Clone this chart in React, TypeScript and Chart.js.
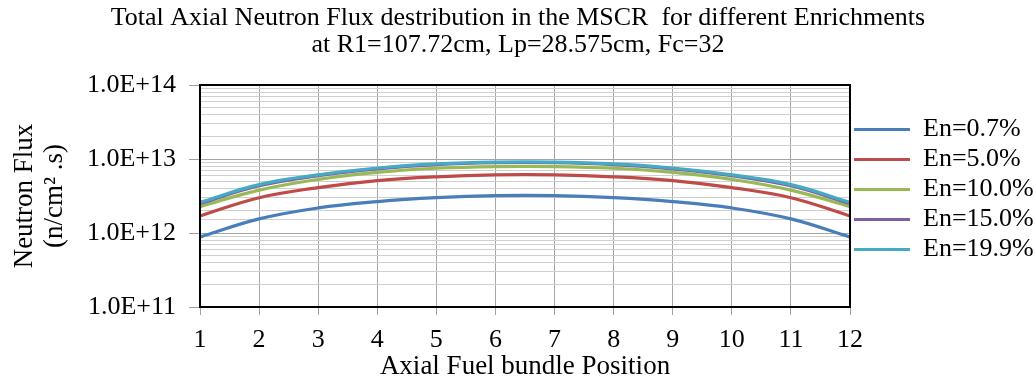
import React, { useEffect, useRef } from "react";
import { Chart, registerables } from "chart.js";

Chart.register(...registerables);

const positions = ["1", "2", "3", "4", "5", "6", "7", "8", "9", "10", "11", "12"];
const seriesLabels = ["En=0.7%", "En=5.0%", "En=10.0%", "En=15.0%", "En=19.9%"];
const en07 = [0.88e12, 1.55e12, 2.18e12, 2.65e12, 3.0e12, 3.2e12, 3.2e12, 3.0e12, 2.65e12, 2.18e12, 1.55e12, 0.88e12];
const en50 = [1.7e12, 3.0e12, 4.1e12, 5.1e12, 5.75e12, 6.1e12, 6.1e12, 5.75e12, 5.1e12, 4.1e12, 3.0e12, 1.7e12];
const en100 = [2.27e12, 3.8e12, 5.3e12, 6.6e12, 7.5e12, 7.9e12, 7.9e12, 7.5e12, 6.6e12, 5.3e12, 3.8e12, 2.27e12];
const en150 = [2.5e12, 4.35e12, 5.95e12, 7.35e12, 8.4e12, 8.9e12, 8.9e12, 8.4e12, 7.35e12, 5.95e12, 4.35e12, 2.5e12];
const en199 = [2.6e12, 4.5e12, 6.1e12, 7.55e12, 8.6e12, 9.1e12, 9.1e12, 8.6e12, 7.55e12, 6.1e12, 4.5e12, 2.6e12];
const seriesValues = [en07, en50, en100, en150, en199];
const seriesColors = ["#4a7ebb", "#be4b48", "#98b954", "#7d60a0", "#46aac5"];
const titleLines = [
  "Total Axial Neutron Flux destribution in the MSCR  for different Enrichments",
  "at R1=107.72cm, Lp=28.575cm, Fc=32",
];
const yTitleLines = ["Neutron Flux", "(n/cm\u00B2 .s)"];
const xTitle = "Axial Fuel bundle Position";

const SERIF = "'Liberation Serif', 'Times New Roman', serif";

const isDecade = (v: number) => {
  const l = Math.log10(v);
  return Math.abs(l - Math.round(l)) < 1e-9;
};

const framePlugin = {
  id: "frame",
  afterDatasetsDraw(chart: any) {
    const { ctx, chartArea } = chart;
    ctx.save();
    ctx.strokeStyle = "#000";
    ctx.lineWidth = 2;
    ctx.strokeRect(chartArea.left, chartArea.top, chartArea.right - chartArea.left, chartArea.bottom - chartArea.top);
    ctx.restore();
  },
};

export default function App() {
  const ref = useRef<HTMLCanvasElement | null>(null);
  useEffect(() => {
    if (!ref.current) return;
    const chart = new Chart(ref.current, {
      type: "line",
      data: {
        labels: positions,
        datasets: seriesValues.map((vals, i) => ({
          label: seriesLabels[i],
          data: vals,
          borderColor: seriesColors[i],
          backgroundColor: seriesColors[i],
          borderWidth: 3.2,
          pointRadius: 0,
          tension: 0.4,
          fill: false,
          order: seriesValues.length - i,
        })),
      },
      options: {
        animation: false,
        responsive: true,
        maintainAspectRatio: false,
        devicePixelRatio: 1,
        layout: { padding: { left: 0, right: 0, top: 0, bottom: 0 } },
        plugins: {
          title: {
            display: true,
            text: titleLines,
            color: "#000",
            font: { family: SERIF, size: 26, weight: "normal", lineHeight: 27 / 26 },
            padding: { top: 4.5, bottom: 26.5 },
          },
          legend: {
            position: "right",
            maxWidth: 186,
            labels: {
              usePointStyle: true,
              pointStyle: "line",
              pointStyleWidth: 56,
              boxWidth: 56,
              boxHeight: 3,
              padding: 4,
              color: "#000",
              font: { family: SERIF, size: 26 },
              sort: (a: any, b: any) => a.datasetIndex - b.datasetIndex,
            },
          },
          tooltip: { enabled: false },
        },
        scales: {
          x: {
            type: "category",
            offset: false,
            border: { display: false },
            grid: { color: "#a6a6a6", lineWidth: 1, tickLength: 8, tickColor: "#a0a0a0" },
            ticks: { color: "#000", font: { family: SERIF, size: 26 }, padding: 10, maxRotation: 0, autoSkip: false },
            title: {
              display: true,
              text: xTitle,
              color: "#000",
              font: { family: SERIF, size: 27, lineHeight: 1 },
              padding: { top: 0, bottom: -1 },
            },
            afterFit: (s: any) => {
              s.height = 72;
            },
          },
          y: {
            type: "logarithmic",
            min: 1e11,
            max: 1e14,
            border: { display: false },
            grid: {
              color: (c: any) => (c.tick && isDecade(c.tick.value) ? "#a6a6a6" : "#cfcfcf"),
              lineWidth: 1,
              tickLength: 11,
              tickColor: (c: any) => (c.tick && isDecade(c.tick.value) ? "#a0a0a0" : "rgba(0,0,0,0)"),
            },
            ticks: {
              color: "#000",
              font: { family: SERIF, size: 26 },
              padding: 13,
              autoSkip: false,
              callback: (v: any) => {
                const n = Number(v);
                if (!isDecade(n)) return "";
                const e = Math.round(Math.log10(n));
                return "1.0E+" + e;
              },
            },
            title: {
              display: true,
              text: yTitleLines,
              color: "#000",
              font: { family: SERIF, size: 27, lineHeight: 30 / 27 },
              padding: { top: 10, bottom: 0 },
            },
            afterFit: (s: any) => {
              s.width = 200;
            },
          },
        },
      },
      plugins: [framePlugin],
    } as any);
    return () => chart.destroy();
  }, []);
  return (
    <div style={{ position: "absolute", left: 0, top: 0, width: 1036, height: 379, background: "#fff" }}>
      <canvas ref={ref} />
    </div>
  );
}
